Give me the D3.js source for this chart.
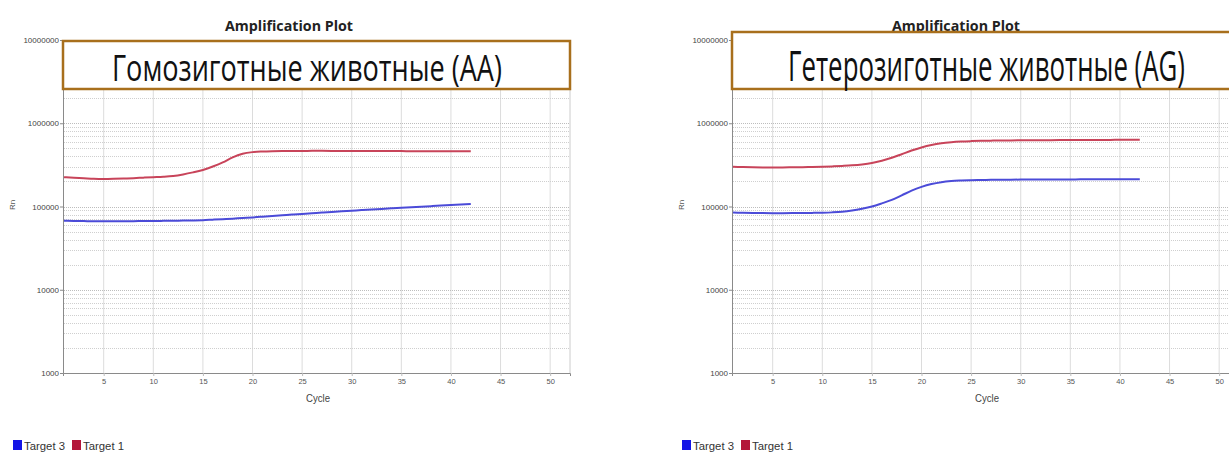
<!DOCTYPE html>
<html>
<head>
<meta charset="utf-8">
<script src="https://cdn.jsdelivr.net/npm/d3@7"></script>
<style>
  body { margin: 0; background: #fff; }
  svg { display: block; }
</style>
</head>
<body>
<svg id="chart"></svg>
<script>
// cycle numbers and tick labels
const cycles = [1, 2, 3, 4, 5, 6, 7, 8, 9, 10, 11, 12, 13, 14, 15, 16, 17, 18, 19, 20, 21,
  22, 23, 24, 25, 26, 27, 28, 29, 30, 31, 32, 33, 34, 35, 36, 37, 38, 39, 40, 41, 42];
const cycleTicks = [5, 10, 15, 20, 25, 30, 35, 40, 45, 50];
const rnTicks = [1000, 10000, 100000, 1000000, 10000000];

// homozygous (AA) panel, Rn per cycle
const homoTarget1 = [225000, 221000, 218000, 215000, 214000, 215000, 217000, 219000, 222000, 225000,
  228000, 233000, 243000, 257000, 275000, 302000, 338000, 390000, 430000, 450000, 458000,
  462000, 464000, 465000, 465000, 466000, 466000, 465000, 465000, 464000, 464000, 464000,
  463000, 463000, 463000, 462000, 462000, 462000, 461000, 461000, 461000, 460000];
const homoTarget3 = [67500, 67000, 66800, 66600, 66500, 66500, 66600, 66700, 66800, 67000,
  67200, 67400, 67700, 68000, 68500, 69500, 70500, 71500, 72800, 74000, 75500,
  77000, 78500, 80000, 81500, 83000, 84500, 86000, 87500, 89000, 90500, 92000,
  93500, 95000, 96500, 98000, 99500, 101000, 102500, 104000, 105500, 107000];

// heterozygous (AG) panel, Rn per cycle
const heteroTarget1 = [300000, 298000, 296000, 295000, 295000, 295000, 296000, 297000, 298000, 300000,
  303000, 307000, 312000, 320000, 333000, 355000, 385000, 425000, 470000, 512000, 548000,
  575000, 592000, 603000, 610000, 615000, 618000, 620000, 622000, 624000, 625000, 626000,
  627000, 628000, 629000, 630000, 630000, 631000, 631000, 632000, 632000, 632000];
const heteroTarget3 = [84500, 84000, 83500, 83300, 83200, 83200, 83300, 83500, 83800, 84200,
  85000, 86500, 89500, 94000, 100000, 109000, 120000, 136000, 155000, 172000, 186000,
  196000, 202000, 205000, 207000, 208000, 209000, 210000, 210000, 210500, 211000, 211000,
  211000, 211500, 211500, 212000, 212000, 212000, 212000, 212000, 212000, 212000];

const seriesNames = ['Target 3', 'Target 1'];
const panelLabels = ['Гомозиготные животные (AA)', 'Гетерозиготные животные (AG)'];

const width = 1229, height = 453;
const colors = { t3: '#4b4bd8', t1: '#c8445a' };
const legendColors = ['#1414e6', '#b3163a'];

const svg = d3.select('#chart')
  .attr('width', width)
  .attr('height', height);

svg.append('rect').attr('width', width).attr('height', height).attr('fill', '#fff');

const x = d3.scaleLinear().domain([0.9, 52]).range([63, 570]);
const y = d3.scaleLog().domain([1000, 10000000]).range([373, 40]);

function drawPanel(dx, t1, t3, cfg) {
  const g = svg.append('g').attr('transform', `translate(${dx},0)`);

  // vertical grid
  g.append('g').selectAll('line')
    .data(cycleTicks)
    .join('line')
    .attr('x1', d => x(d)).attr('x2', d => x(d))
    .attr('y1', y(10000000)).attr('y2', y(1000))
    .attr('stroke', '#dcdcdc')
    .attr('stroke-width', 1);

  // horizontal minor grid (dotted)
  const minor = [];
  [1000, 10000, 100000, 1000000].forEach(dec => {
    for (let k = 1; k <= 9; k++) minor.push(dec * k);
  });
  g.append('g').selectAll('line')
    .data(minor)
    .join('line')
    .attr('x1', x.range()[0] + 1).attr('x2', x.range()[1])
    .attr('y1', d => Math.round(y(d)) + 0.5).attr('y2', d => Math.round(y(d)) + 0.5)
    .attr('stroke', d => (String(d)[0] === '1') ? '#bdbdbd' : '#cfcfcf')
    .attr('stroke-width', 1)
    .attr('stroke-dasharray', '1,1');

  // right frame
  g.append('line')
    .attr('x1', x.range()[1]).attr('x2', x.range()[1])
    .attr('y1', y(10000000)).attr('y2', y(1000))
    .attr('stroke', '#cccccc');

  // axes
  const yAxis = d3.axisLeft(y).tickValues(rnTicks).tickFormat(d3.format('d'))
    .tickSize(3).tickPadding(1);
  g.append('g')
    .attr('transform', `translate(${x.range()[0]},0)`)
    .call(yAxis)
    .call(s => s.select('.domain').attr('stroke', '#8a8a8a'))
    .call(s => s.selectAll('.tick line').attr('stroke', '#8a8a8a'))
    .call(s => s.selectAll('text').attr('font-size', 8)
      .attr('font-family', 'Liberation Sans, Arial, sans-serif').attr('fill', '#444'));

  const xAxis = d3.axisBottom(x).tickValues(cycleTicks).tickSize(3).tickPadding(3);
  g.append('g')
    .attr('transform', `translate(0,${y.range()[0]})`)
    .call(xAxis)
    .call(s => s.select('.domain').attr('stroke', '#8a8a8a'))
    .call(s => s.selectAll('.tick line').attr('stroke', '#bbbbbb'))
    .call(s => s.selectAll('text').attr('font-size', 7.5)
      .attr('font-family', 'Liberation Sans, Arial, sans-serif').attr('fill', '#555'));

  // axis titles
  g.append('text')
    .attr('x', 318).attr('y', 402)
    .attr('text-anchor', 'middle')
    .attr('font-family', 'Liberation Sans, Arial, sans-serif')
    .attr('font-size', 11)
    .attr('textLength', 24)
    .attr('lengthAdjust', 'spacingAndGlyphs')
    .attr('fill', '#444')
    .text('Cycle');

  g.append('text')
    .attr('transform', 'translate(15,205) rotate(-90)')
    .attr('text-anchor', 'middle')
    .attr('font-family', 'Liberation Sans, Arial, sans-serif')
    .attr('font-size', 8)
    .attr('fill', '#555')
    .text('Rn');

  // curves
  const line = d3.line()
    .x((d, i) => x(cycles[i]))
    .y(d => y(d))
    .curve(d3.curveMonotoneX);

  g.append('path').datum(t3)
    .attr('fill', 'none')
    .attr('stroke', colors.t3)
    .attr('stroke-width', 2)
    .attr('d', line);

  g.append('path').datum(t1)
    .attr('fill', 'none')
    .attr('stroke', colors.t1)
    .attr('stroke-width', 2)
    .attr('d', line);

  // legend
  const lg = g.append('g').attr('transform', 'translate(13,440)');
  let lx = 0;
  seriesNames.forEach((name, i) => {
    lg.append('rect')
      .attr('x', lx).attr('y', 0)
      .attr('width', 9).attr('height', 10)
      .attr('fill', legendColors[i]);
    lg.append('text')
      .attr('x', lx + 11).attr('y', 10)
      .attr('font-family', 'Liberation Sans, Arial, sans-serif')
      .attr('font-size', 11.5)
      .attr('textLength', 41)
      .attr('lengthAdjust', 'spacingAndGlyphs')
      .attr('fill', '#333')
      .text(name);
    lx += 59;
  });

  // chart title
  svg.append('text')
    .attr('x', cfg.titleX).attr('y', 31)
    .attr('text-anchor', 'middle')
    .attr('font-family', 'Open Sans, sans-serif')
    .attr('font-weight', 'bold')
    .attr('font-size', 14)
    .attr('textLength', 128)
    .attr('lengthAdjust', 'spacingAndGlyphs')
    .attr('fill', '#222')
    .text('Amplification Plot');

  // annotation box
  svg.append('rect')
    .attr('x', cfg.boxX).attr('y', cfg.boxY)
    .attr('width', cfg.boxW).attr('height', cfg.boxH)
    .attr('fill', '#fff')
    .attr('stroke', '#a86f1c')
    .attr('stroke-width', 2.5);

  svg.append('text')
    .attr('x', cfg.textX).attr('y', 81)
    .attr('font-family', 'Open Sans, sans-serif')
    .attr('font-size', cfg.fontSize)
    .attr('textLength', cfg.textW)
    .attr('lengthAdjust', 'spacingAndGlyphs')
    .attr('fill', '#111')
    .text(cfg.label);
}

drawPanel(0, homoTarget1, homoTarget3, {
  titleX: 289, boxX: 63, boxY: 41, boxW: 507, boxH: 48,
  textX: 112, textW: 390, fontSize: 37, label: panelLabels[0]
});

drawPanel(669, heteroTarget1, heteroTarget3, {
  titleX: 956, boxX: 732, boxY: 32, boxW: 600, boxH: 57,
  textX: 788, textW: 397, fontSize: 42, label: panelLabels[1]
});
</script>
</body>
</html>
